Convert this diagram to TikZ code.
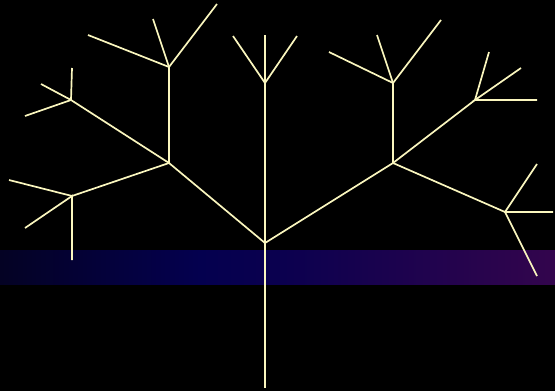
\documentclass[tikz,border=0pt]{standalone}
\pgfdeclarehorizontalshading{bandshade}{100bp}{%
  rgb(0bp)=(0.016,0.008,0.14);
  rgb(25bp)=(0.016,0.008,0.14);
  rgb(43bp)=(0.016,0,0.31);
  rgb(50bp)=(0.04,0,0.31);
  rgb(75bp)=(0.2,0.02,0.30);
  rgb(100bp)=(0.2,0.02,0.30)}
\begin{document}
\begin{tikzpicture}[x=1pt,y=-1pt,
  branch/.style={draw=treeline,line width=1.7pt,line cap=butt}]
\definecolor{treeline}{RGB}{250,246,190}
\fill[black] (0,0) rectangle (555,391);
\useasboundingbox (0,0) rectangle (555,391);
\shade[shading=bandshade] (0,250) rectangle (555,284);
% coordinates
\coordinate (root) at (265,388);
\coordinate (base) at (265,243);
\coordinate (c) at (265,83);
\coordinate (c1) at (233,36);
\coordinate (c2) at (265,35);
\coordinate (c3) at (297,36);
\coordinate (L) at (169,163);
\coordinate (Lu) at (169,67);
\coordinate (Lu1) at (88,35);
\coordinate (Lu2) at (153,19);
\coordinate (Lu3) at (217,4);
\coordinate (Ll) at (72,196);
\coordinate (Ll1) at (9,180);
\coordinate (Ll2) at (25,228);
\coordinate (Ll3) at (72,260);
\coordinate (Lm) at (71,100);
\coordinate (Lm1) at (41,84);
\coordinate (Lm2) at (72,68);
\coordinate (Lm3) at (25,116);
\coordinate (R) at (393,163);
\coordinate (Ru) at (393,83);
\coordinate (Ru1) at (329,52);
\coordinate (Ru2) at (377,35);
\coordinate (Ru3) at (441,20);
\coordinate (Rm) at (475,100);
\coordinate (Rm1) at (489,52);
\coordinate (Rm2) at (521,68);
\coordinate (Rm3) at (537,100);
\coordinate (Rr) at (505,212);
\coordinate (Rr1) at (537,164);
\coordinate (Rr2) at (553,212);
\coordinate (Rr3) at (537,276);
% tree
\draw[branch] (root) -- (base) -- (c);
\draw[branch] (c1) -- (c) -- (c3);
\draw[branch] (c) -- (c2);
\draw[branch] (base) -- (L) -- (Lu);
\draw[branch] (Lu1) -- (Lu) -- (Lu3);
\draw[branch] (Lu) -- (Lu2);
\draw[branch] (L) -- (Ll) -- (Ll1);
\draw[branch] (Ll2) -- (Ll) -- (Ll3);
\draw[branch] (L) -- (Lm) -- (Lm1);
\draw[branch] (Lm2) -- (Lm) -- (Lm3);
\draw[branch] (base) -- (R) -- (Ru);
\draw[branch] (Ru1) -- (Ru) -- (Ru3);
\draw[branch] (Ru) -- (Ru2);
\draw[branch] (R) -- (Rm) -- (Rm1);
\draw[branch] (Rm2) -- (Rm) -- (Rm3);
\draw[branch] (R) -- (Rr) -- (Rr1);
\draw[branch] (Rr2) -- (Rr) -- (Rr3);
\end{tikzpicture}
\end{document}
